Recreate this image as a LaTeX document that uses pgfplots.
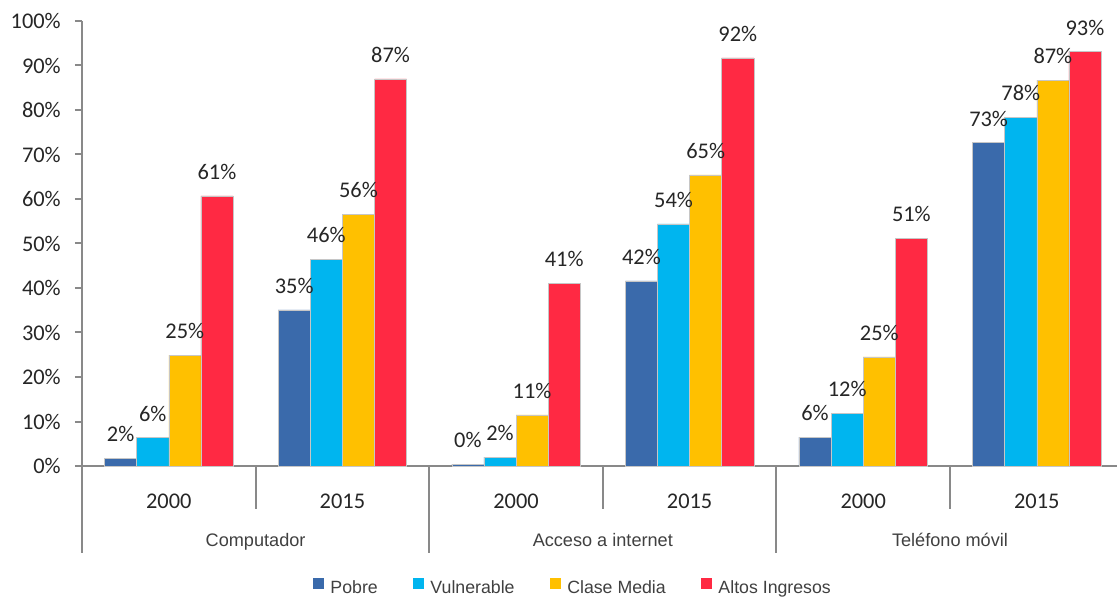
\documentclass[border=0pt]{standalone}
\usepackage{fontspec}
\setmainfont{Carlito}
\newfontfamily\robfont{Liberation Sans}
\usepackage{pgfplots}
\pgfplotsset{compat=1.18}
\definecolor{cPobre}{RGB}{58,106,171}
\definecolor{cVuln}{RGB}{0,181,239}
\definecolor{cMedia}{RGB}{255,192,0}
\definecolor{cAltos}{RGB}{255,41,67}
\definecolor{axgray}{RGB}{137,137,137}
\definecolor{txt}{RGB}{38,38,38}
\definecolor{cattxt}{RGB}{64,64,64}
\newcommand{\numfont}{\fontsize{16.8pt}{18pt}\selectfont}
\newcommand{\catfont}{\robfont\fontsize{13.6pt}{15pt}\selectfont}
\newcommand{\legfont}{\robfont\fontsize{13.3pt}{15pt}\selectfont}
\pgfplotsset{
  mybar/.style={fill=#1, draw=gray!45, line width=0.4pt,
    legend image code/.code={\fill[#1, draw=none] (0pt,-0.6pt) rectangle (8.25pt,7.6pt);
      \path[draw=none, fill=none, use as bounding box] (0pt,-0.6pt) rectangle (11.5pt,7.6pt);}},
}
\begin{document}
\begin{tikzpicture}
\useasboundingbox (-61.5pt,-97.5pt) rectangle (776.25pt,349.5pt);
\begin{axis}[
  at={(0pt,0pt)}, anchor=south west,
  scale only axis, width=776.25pt, height=333.75pt,
  xmin=-0.5, xmax=5.462, ymin=0, ymax=100,
  ybar=0pt, bar width=0.185,
  clip=false,
  axis lines*=left,
  axis line style={draw=axgray, line width=1.5pt},
  xtick={0,1,2,3,4,5},
  xticklabels={2000,2015,2000,2015,2000,2015},
  x tick style={draw=none},
  xticklabel style={anchor=center, inner sep=0pt, yshift=-21pt, font=\numfont, text=txt},
  ytick={0,10,...,100},
  yticklabels={0\%,10\%,20\%,30\%,40\%,50\%,60\%,70\%,80\%,90\%,100\%},
  y tick style={draw=axgray, line width=1.5pt},
  tick align=outside,
  major tick length=5.25pt,
  yticklabel style={anchor=east, inner sep=0pt, xshift=-10.5pt, font=\numfont, text=txt},
  point meta=explicit symbolic,
  nodes near coords={\pgfplotspointmeta\%},
  every node near coord/.append style={anchor=center, yshift=18pt, font=\numfont, text=txt, inner sep=0pt},
  legend columns=4,
  legend style={at={(0.4744,-0.2742)}, anchor=center, draw=none, fill=none,
    font=\legfont, text=cattxt, inner sep=0pt,
    /tikz/every even column/.append style={column sep=25pt},
    nodes={inner sep=1.5pt}},
  legend cell align=left,
]
\addplot[mybar=cPobre, bar shift=-0.2775] coordinates {
  (0,1.7)[2] (1,35.1)[35] (2,0.4)[0] (3,41.6)[42] (4,6.5)[6] (5,72.7)[73]};
\addplot[mybar=cVuln, bar shift=-0.0925] coordinates {
  (0,6.4)[6] (1,46.5)[46] (2,2.0)[2] (3,54.4)[54] (4,11.9)[12] (5,78.4)[78]};
\addplot[mybar=cMedia, bar shift=0.0925] coordinates {
  (0,24.9)[25] (1,56.6)[56] (2,11.5)[11] (3,65.4)[65] (4,24.5)[25] (5,86.7)[87]};
\addplot[mybar=cAltos, bar shift=0.2775] coordinates {
  (0,60.7)[61] (1,87.0)[87] (2,41.1)[41] (3,91.7)[92] (4,51.2)[51] (5,93.1)[93]};
\legend{Pobre,Vulnerable,Clase Media,Altos Ingresos}
% category separators
\draw[axgray, line width=1.5pt] (axis cs:0.5,0) -- ++(0pt,-32.25pt);
\draw[axgray, line width=1.5pt] (axis cs:2.5,0) -- ++(0pt,-32.25pt);
\draw[axgray, line width=1.5pt] (axis cs:4.5,0) -- ++(0pt,-32.25pt);
\draw[axgray, line width=1.5pt] (axis cs:-0.5,0) -- ++(0pt,-65.25pt);
\draw[axgray, line width=1.5pt] (axis cs:1.5,0) -- ++(0pt,-65.25pt);
\draw[axgray, line width=1.5pt] (axis cs:3.5,0) -- ++(0pt,-65.25pt);
\node[anchor=base, font=\catfont, text=cattxt, inner sep=0pt] at (axis cs:0.5,0) [yshift=-60pt] {Computador};
\node[anchor=base, font=\catfont, text=cattxt, inner sep=0pt] at (axis cs:2.5,0) [yshift=-60pt] {Acceso a internet};
\node[anchor=base, font=\catfont, text=cattxt, inner sep=0pt] at (axis cs:4.5,0) [yshift=-60pt] {Teléfono móvil};
\end{axis}
\end{tikzpicture}
\end{document}
